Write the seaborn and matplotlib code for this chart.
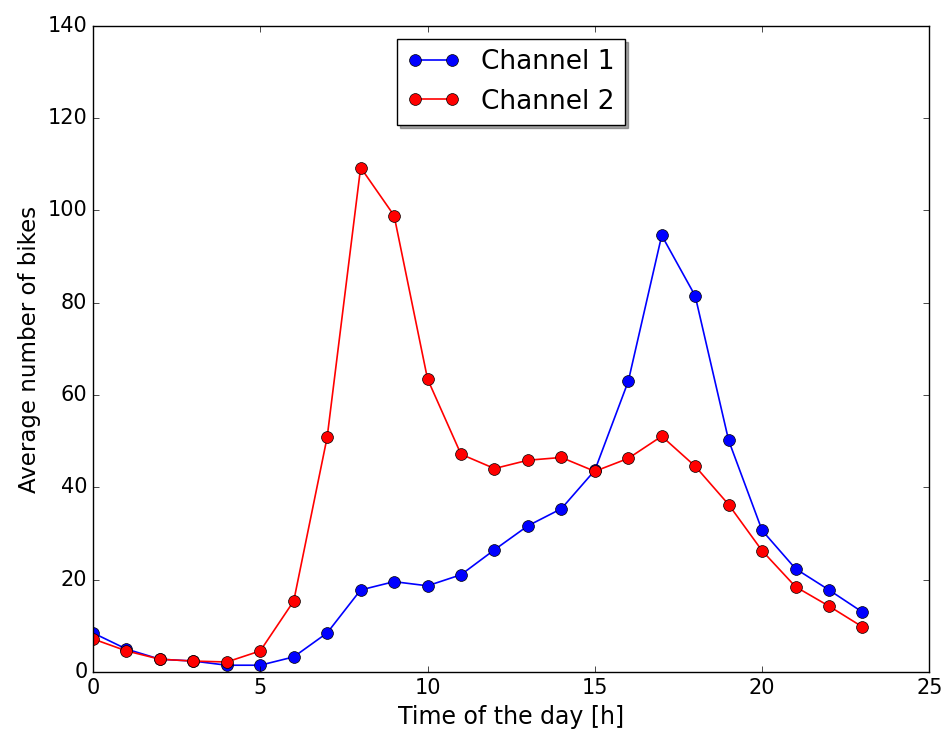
import matplotlib
matplotlib.use('Agg')
import matplotlib.pyplot as plt
import pandas as pd
import seaborn as sns

hours = list(range(24))
channel_1 = [8.5, 5.0, 2.8, 2.4, 1.5, 1.5, 3.3, 8.5, 17.8, 19.6, 18.7, 21.1,
             26.5, 31.7, 35.4, 43.7, 63.0, 94.6, 81.5, 50.2, 30.7, 22.4, 17.8, 13.0]
channel_2 = [7.2, 4.6, 2.8, 2.4, 2.2, 4.6, 15.4, 50.9, 109.3, 98.9, 63.5, 47.2,
             44.1, 45.9, 46.5, 43.5, 46.3, 51.1, 44.6, 36.3, 26.3, 18.5, 14.3, 9.8]

df = pd.DataFrame({'hour': hours, 'Channel 1': channel_1, 'Channel 2': channel_2})

plt.style.use('classic')
plt.rcParams['font.family'] = ['DejaVu Sans']
plt.rcParams['font.size'] = 15

fig = plt.figure(figsize=(9.44, 7.37), dpi=100, facecolor='white')
ax = fig.add_axes([0.0985, 0.088, 0.886, 0.877])

sns.lineplot(data=df, x='hour', y='Channel 1', color='b', marker='o', markersize=8.5,
             markeredgecolor='k', markeredgewidth=0.5, linewidth=1.2, label='Channel 1', ax=ax)
sns.lineplot(data=df, x='hour', y='Channel 2', color='r', marker='o', markersize=8.5,
             markeredgecolor='k', markeredgewidth=0.5, linewidth=1.2, label='Channel 2', ax=ax)

ax.set_xlim(0, 25)
ax.set_ylim(0, 140)
ax.set_xlabel('Time of the day [h]', fontsize=17)
ax.set_ylabel('Average number of bikes', fontsize=16.5)
ax.tick_params(labelsize=15)
ax.legend(loc='upper center', bbox_to_anchor=(0.5, 0.992), shadow=True,
          fancybox=False, numpoints=2, fontsize=19, borderaxespad=0.3)

fig.savefig('out.png', dpi=100, facecolor='white')
